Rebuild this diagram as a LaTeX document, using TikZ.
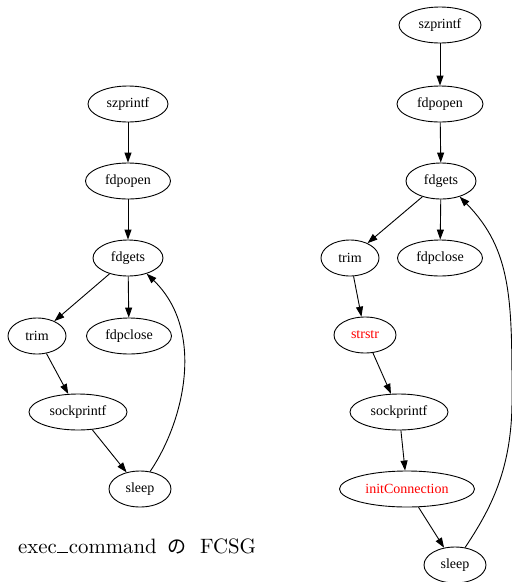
\documentclass[tikz,border=0pt]{standalone}
\usepackage{fontspec}
\newfontfamily\tms{Liberation Serif}
\newfontfamily\cjk{Noto Sans CJK JP}
\newfontfamily\capfont{lmroman10-regular.otf}
\usetikzlibrary{arrows.meta,shapes.geometric}
\begin{document}
\begin{tikzpicture}[x=1pt,y=-1pt,
  fn/.style={draw, ellipse, line width=0.9pt, inner sep=0pt, minimum height=36pt, font=\tms\fontsize{14}{16}\selectfont},
  hl/.style={text=red},
  ed/.style={line width=0.9pt, -{Triangle[length=10pt,width=7pt]}}]
\useasboundingbox (0,0) rectangle (512,582);
% left graph
\node[fn, minimum width=80pt] (ls) at (128,104) {szprintf};
\node[fn, minimum width=85pt] (lo) at (128,181) {fdpopen};
\node[fn, minimum width=70pt] (lg) at (128,258) {fdgets};
\node[fn, minimum width=58pt] (lt) at (37,336) {trim};
\node[fn, minimum width=85pt] (lc) at (129,336) {fdpclose};
\node[fn, minimum width=98pt] (lp) at (78,412) {sockprintf};
\node[fn, minimum width=62pt] (ll) at (140,489) {sleep};
\draw[ed] (ls) -- (lo);
\draw[ed] (lo) -- (lg);
\draw[ed] (lg) -- (lt);
\draw[ed] (lg) -- (lc);
\draw[ed] (lt) -- (lp);
\draw[ed] (lp) -- (ll);
\draw[ed] (ll.60) .. controls (185,420) and (205,330) .. (lg.-40);
% right graph
\node[fn, minimum width=82pt] (rs) at (440,25) {szprintf};
\node[fn, minimum width=86pt] (ro) at (440,104) {fdpopen};
\node[fn, minimum width=70pt] (rg) at (441,181) {fdgets};
\node[fn, minimum width=58pt] (rt) at (350,258) {trim};
\node[fn, minimum width=85pt] (rc) at (440,258) {fdpclose};
\node[fn, hl, minimum width=62pt] (rr) at (365,335) {strstr};
\node[fn, minimum width=98pt] (rp) at (399,412) {sockprintf};
\node[fn, hl, minimum width=135pt] (ri) at (407,489) {initConnection};
\node[fn, minimum width=62pt] (rl) at (455,565) {sleep};
\draw[ed] (rs) -- (ro);
\draw[ed] (ro) -- (rg);
\draw[ed] (rg) -- (rt);
\draw[ed] (rg) -- (rc);
\draw[ed] (rt) -- (rr);
\draw[ed] (rr) -- (rp);
\draw[ed] (rp) -- (ri);
\draw[ed] (ri) -- (rl);
\draw[ed] (rl.60) .. controls (490,510) and (512,470) .. (512,400) .. controls (512,300) and (512,250) .. (rg.-40);
% caption
\node[anchor=base west, inner sep=0pt, font=\capfont\fontsize{20.8}{24}\selectfont] (cap) at (18,553) {exec\kern.02em\rule{0.52em}{0.05em}\kern.04em command\hspace{0.2em} {\cjk\fontsize{19}{24}\selectfont の}\hspace{0.3em} FCSG};
\end{tikzpicture}
\end{document}
